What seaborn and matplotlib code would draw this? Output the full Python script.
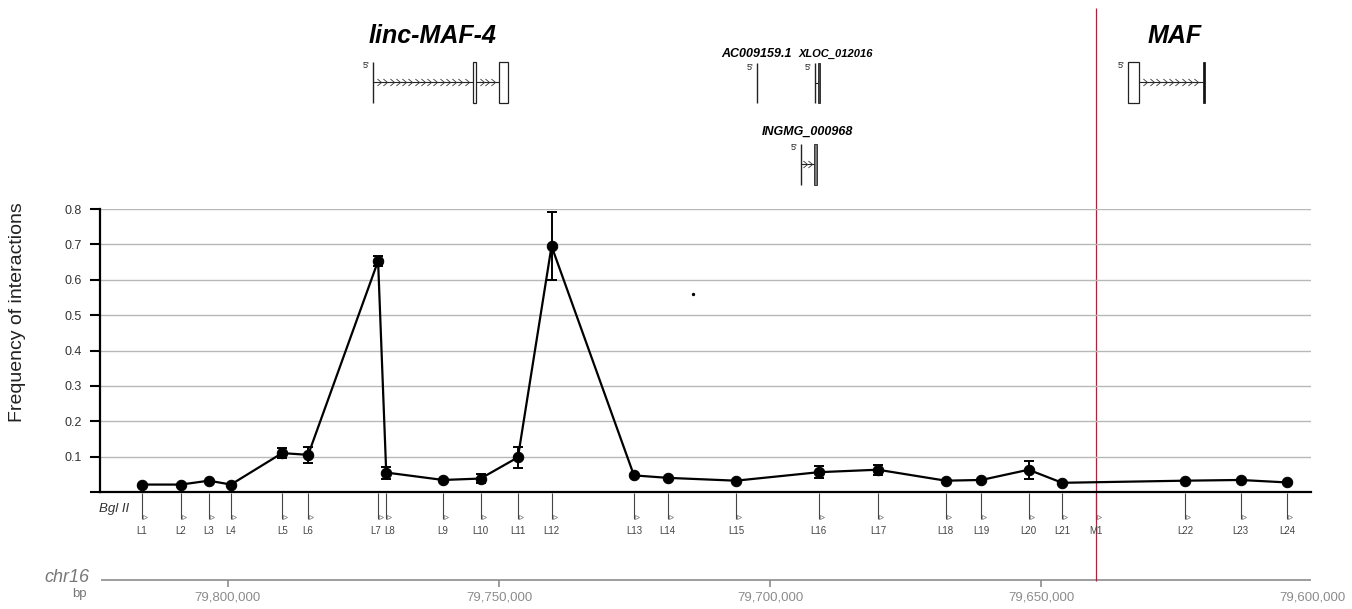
#!/usr/bin/env python3
"""4C-style interaction profile around linc-MAF-4 / MAF on chr16."""

import matplotlib

matplotlib.use("Agg")
import matplotlib.pyplot as plt
import matplotlib.transforms as mtransforms
import numpy as np
import seaborn as sns
from matplotlib.path import Path
from matplotlib.patches import Rectangle


# Bgl II fragment positions (bp, chr16) and interaction frequencies.
site_labels = ["L1", "L2", "L3", "L4", "L5", "L6", "L7", "L8", "L9", "L10",
               "L11", "L12", "L13", "L14", "L15", "L16", "L17", "L18", "L19",
               "L20", "L21", "L22", "L23", "L24"]
site_bp = [79_815_900, 79_808_700, 79_803_500, 79_799_450, 79_790_000,
           79_785_200, 79_772_300, 79_770_800, 79_760_300, 79_753_400,
           79_746_500, 79_740_300, 79_725_100, 79_718_900, 79_706_300,
           79_691_000, 79_680_100, 79_667_600, 79_661_000, 79_652_300,
           79_646_100, 79_623_400, 79_613_200, 79_604_600]
freq = [0.021, 0.021, 0.032, 0.021, 0.110, 0.105, 0.653, 0.055, 0.034, 0.038,
        0.098, 0.695, 0.047, 0.040, 0.032, 0.056, 0.063, 0.032, 0.034, 0.063,
        0.026, 0.032, 0.034, 0.027]
freq_err = [0.0, 0.0, 0.0, 0.0, 0.015, 0.023, 0.015, 0.017, 0.0,
            0.012, 0.030, 0.096, 0.0, 0.0, 0.0, 0.017, 0.014, 0.0,
            0.0, 0.026, 0.0, 0.0, 0.0, 0.0]

# viewpoint fragment (MAF promoter)
viewpoint_label = "M1"
viewpoint_bp = 79_639_900

# stray point in the source figure
stray_bp = [79_714_200]
stray_freq = [0.56]

# gene models in bp
linc_tss = 79_773_250
linc_exons = [(79_754_800, 79_754_250), (79_750_000, 79_748_340)]
ac_tss = 79_702_400
xloc_tss = 79_691_700
xloc_exon = (79_691_150, 79_690_800)
ingmg_tss = 79_694_280
ingmg_exon = (79_691_900, 79_691_350)
maf_exons = [(79_633_950, 79_631_920), (79_620_150, 79_619_700)]

chr_ticks = [79_800_000, 79_750_000, 79_700_000, 79_650_000, 79_600_000]
y_ticks = [0, 0.1, 0.2, 0.3, 0.4, 0.5, 0.6, 0.7, 0.8]

X_LEFT, X_RIGHT = 79_823_600, 79_600_200
W, H = 1352, 609


def main() -> None:
    sns.set_theme(style="white")
    plt.rcParams["font.family"] = ["Liberation Sans", "DejaVu Sans"]

    fig = plt.figure(figsize=(W / 100, H / 100), dpi=100)
    # annotation layer: x in bp, y in pixel rows
    ann = fig.add_axes([100 / W, 0, 1211 / W, 1], zorder=0)
    ann.set_xlim(X_LEFT, X_RIGHT)
    ann.set_ylim(H, 0)
    ann.axis("off")

    ax = fig.add_axes([100 / W, (H - 492) / H, 1211 / W, 283 / H], zorder=1)
    ax.patch.set_alpha(0)
    ax.set_xlim(X_LEFT, X_RIGHT)
    ax.set_ylim(0, 0.8)

    # profile
    sns.lineplot(x=site_bp, y=freq, ax=ax, color="black", lw=1.6,
                 marker="o", markersize=7.5, markeredgecolor="black",
                 zorder=3)
    eb = [(b, f, e) for b, f, e in zip(site_bp, freq, freq_err) if e > 0]
    ax.errorbar([b for b, _, _ in eb], [f for _, f, _ in eb],
                yerr=[e for _, _, e in eb], fmt="none", ecolor="black",
                elinewidth=1.4, capsize=3.7, capthick=1.4, zorder=3)
    ax.scatter(stray_bp, stray_freq, s=2, color="black", zorder=3)

    ax.set_xticks([])
    ax.set_yticks(y_ticks)
    ax.set_yticklabels([""] + [f"{t:.1f}" for t in y_ticks[1:]])
    ax.tick_params(axis="y", length=7.5, width=1.5, color="black", left=True,
                   labelsize=9, labelcolor="#333333", pad=5.5)
    ax.yaxis.grid(True, color="#b8b8b8", lw=1)
    for side in ("top", "right"):
        ax.spines[side].set_visible(False)
    for side in ("left", "bottom"):
        ax.spines[side].set_color("black")
        ax.spines[side].set_linewidth(1.6)
    ax.set_ylabel("")

    fig.text(18 / W, 1 - 312 / H, "Frequency of interactions", rotation=90,
             ha="center", va="center", fontsize=14, color="#222222")

    # Bgl II sites
    all_bp = site_bp + [viewpoint_bp]
    all_lab = site_labels + [viewpoint_label]
    ann.vlines(all_bp, 493, 519, colors="#444444", lw=0.8)
    shift = mtransforms.offset_copy(ann.transData, fig=fig, x=3, y=0,
                                    units="dots")
    ann.plot(all_bp, [517] * len(all_bp), ls="none", marker=">", ms=3,
             mfc="white", mec="#777777", mew=0.5, transform=shift)
    nudge = {"L7": -2, "L8": 3}
    for bp, lab in zip(all_bp, all_lab):
        t = mtransforms.offset_copy(ann.transData, fig=fig,
                                    x=nudge.get(lab, 0), y=0, units="dots")
        ann.text(bp, 531, lab, ha="center", va="center", fontsize=7,
                 color="#444444", transform=t)
    fig.text(129 / W, 1 - 509 / H, "Bgl II", ha="right", va="center",
             fontsize=9.5, style="italic", color="#333333")

    # chromosome axis
    ann.hlines(580, 79_823_400, 79_599_700, colors="#8c8c8c", lw=1.2)
    ann.vlines(chr_ticks, 580, 587, colors="#8c8c8c", lw=1.2)
    for t in chr_ticks:
        ann.text(t, 598, f"{t:,}", ha="center", va="center", fontsize=9.5,
                 color="#8c8c8c")
    fig.text(89 / W, 1 - 578 / H, "chr16", ha="right", va="center",
             fontsize=13, style="italic", color="#777777")
    fig.text(87 / W, 1 - 594 / H, "bp", ha="right", va="center",
             fontsize=9.5, color="#777777")

    # viewpoint marker
    ann.vlines(viewpoint_bp, 8, 581, colors="#a8243c", lw=0.9)

    # gene models
    chev = Path([(-0.6, 1.0), (0.6, 0.0), (-0.6, -1.0)],
                [Path.MOVETO, Path.LINETO, Path.LINETO])

    def arrows(x0, x1, y, n):
        ann.plot([x0, x1], [y, y], color="#222222", lw=0.8)
        ann.plot(np.linspace(x0, x1, n + 2)[1:-1], [y] * n, ls="none",
                 marker=chev, ms=5, mfc="none", mec="#333333", mew=0.6)

    def box(x0, x1, top, bot, fc="white", lw=0.9):
        ann.add_patch(Rectangle((x0, top), x1 - x0, bot - top, fc=fc,
                                ec="#222222", lw=lw))

    def five(x, y):
        t = mtransforms.offset_copy(ann.transData, fig=fig, x=-4, y=0,
                                    units="dots")
        ann.text(x, y, "5'", ha="right", va="center", fontsize=6.5,
                 color="#222222", transform=t)

    title_kw = dict(ha="center", va="center", fontsize=18, weight="bold",
                    style="italic", color="black")
    small_kw = dict(ha="center", va="center", fontsize=9, weight="bold",
                    style="italic", color="black")

    # linc-MAF-4
    ann.text(79_762_200, 36, "linc-MAF-4", **title_kw)
    ann.vlines(linc_tss, 62, 103, colors="#222222", lw=1.0)
    arrows(linc_tss, linc_exons[0][0], 82, 15)
    arrows(linc_exons[0][1], linc_exons[1][0], 82, 3)
    box(*linc_exons[0], 62, 103)
    box(*linc_exons[1], 62, 103)
    five(linc_tss, 66)

    # AC009159.1
    ann.text(ac_tss, 54, "AC009159.1", **small_kw)
    ann.vlines(ac_tss, 63, 103, colors="#222222", lw=1.0)
    five(ac_tss, 67)

    # XLOC_012016
    ann.text(79_687_800, 54, "XLOC_012016", **dict(small_kw, fontsize=8))
    ann.vlines(xloc_tss, 63, 103, colors="#222222", lw=1.0)
    ann.plot([xloc_tss, xloc_exon[0]], [83, 83], color="#222222", lw=0.8)
    box(*xloc_exon, 63, 103, fc="#444444", lw=0.6)
    five(xloc_tss, 67)

    # INGMG_000968
    ann.text(79_693_170, 132, "INGMG_000968", **small_kw)
    ann.vlines(ingmg_tss, 144, 185, colors="#222222", lw=1.0)
    arrows(ingmg_tss, ingmg_exon[0], 164, 2)
    box(*ingmg_exon, 144, 185, fc="#777777", lw=0.6)
    five(ingmg_tss, 147)

    # MAF
    ann.text(79_625_280, 36, "MAF", **title_kw)
    box(*maf_exons[0], 62, 103)
    arrows(maf_exons[0][1], maf_exons[1][0], 82, 9)
    box(*maf_exons[1], 62, 103, fc="#111111", lw=0.6)
    five(maf_exons[0][0], 65)

    fig.savefig("out.png", dpi=100)


if __name__ == "__main__":
    main()
